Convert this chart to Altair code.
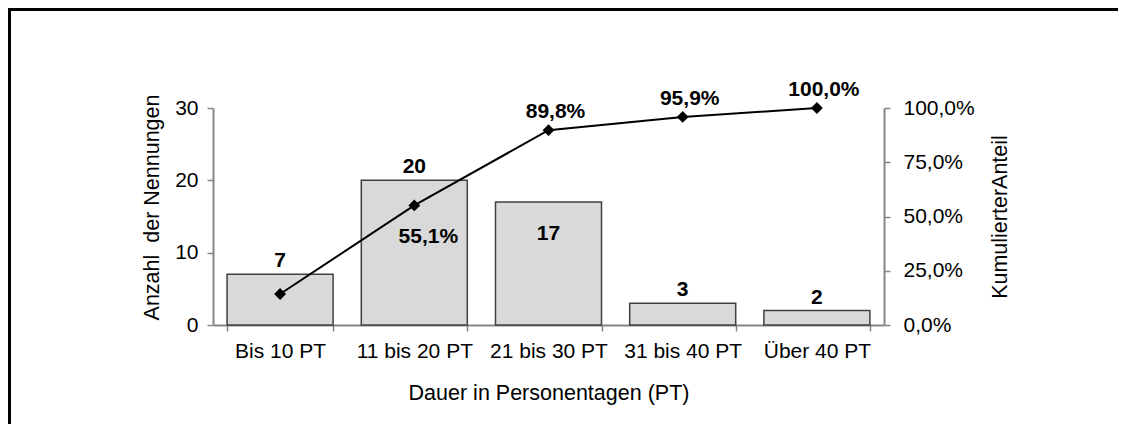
import altair as alt
import pandas as pd

categories = ["Bis 10 PT", "11 bis 20 PT", "21 bis 30 PT", "31 bis 40 PT", "Über 40 PT"]
counts = [7, 20, 17, 3, 2]
cumulative_pct = [14.3, 55.1, 89.8, 95.9, 100.0]
left_ticks = [0, 10, 20, 30]
right_ticks = [0, 25, 50, 75, 100]

df = pd.DataFrame({"cat": categories, "count": counts, "cum": cumulative_pct})

FONT = "Liberation Sans"

x_enc = alt.X(
    "cat:N",
    sort=categories,
    scale=alt.Scale(paddingInner=0.21, paddingOuter=0.105),
    axis=alt.Axis(
        title="Dauer in Personentagen (PT)",
        labelAngle=0,
        tickBand="extent",
        labelPadding=9,
        titlePadding=21,
    ),
)

y_left = alt.Y(
    "count:Q",
    scale=alt.Scale(domain=[0, 30]),
    axis=alt.Axis(
        orient="left",
        values=left_ticks,
        grid=False,
        title="Anzahl\u00a0 der Nennungen",
        labelPadding=9,
        titlePadding=11,
        titleY=99,
    ),
)

y_right = alt.Y(
    "cum:Q",
    scale=alt.Scale(domain=[0, 100]),
    axis=alt.Axis(
        orient="right",
        values=right_ticks,
        grid=False,
        title="KumulierterAnteil",
        labelExpr="replace(format(datum.value, '.1f'), '.', ',') + '%'",
        labelPadding=13,
        titlePadding=15,
        titleAngle=270,
        titleBaseline="top",
    ),
)

base = alt.Chart(df)

# chart-area border (only top and left edges are visible in the cropped reference)
frame_src = alt.Chart(alt.Data(values=[{}]))
frame_top = frame_src.mark_rect(color="black", strokeWidth=0).encode(
    x=alt.value(-205), x2=alt.value(905), y=alt.value(-100), y2=alt.value(-97)
)
frame_left = frame_src.mark_rect(color="black", strokeWidth=0).encode(
    x=alt.value(-205), x2=alt.value(-202), y=alt.value(-100), y2=alt.value(316)
)

bar_labels_above = base.transform_filter("datum.count != 17").transform_calculate(
    lab="format(datum.count, 'd')"
).mark_text(
    font=FONT, fontSize=21, fontWeight="bold", color="black", baseline="alphabetic", dy=-7
).encode(x=x_enc, y=y_left, text="lab:N")

bar_labels_inside = base.transform_filter("datum.count == 17").transform_calculate(
    lab="format(datum.count, 'd')"
).mark_text(
    font=FONT, fontSize=21, fontWeight="bold", color="black", baseline="alphabetic", dy=38
).encode(x=x_enc, y=y_left, text="lab:N")

bars = base.mark_bar(fill="#d9d9d9", stroke="#404040", strokeWidth=1.5).encode(
    x=x_enc, y=y_left
)

line = base.mark_line(color="black", strokeWidth=2).encode(x=x_enc, y=y_right)
points = base.mark_point(
    shape="diamond", filled=True, color="black", size=140, opacity=1
).encode(x=x_enc, y=y_right)

lab_expr = "replace(format(datum.cum, '.1f'), '.', ',') + '%'"

line_labels_above = base.transform_filter(
    "datum.cum > 60"
).transform_calculate(lab=lab_expr).mark_text(
    font=FONT, fontSize=21, fontWeight="bold", color="black", baseline="alphabetic", dy=-12, dx=7
).encode(x=x_enc, y=y_right, text="lab:N")

line_labels_below = base.transform_filter(
    "datum.cum > 50 && datum.cum < 60"
).transform_calculate(lab=lab_expr).mark_text(
    font=FONT, fontSize=21, fontWeight="bold", color="black", baseline="alphabetic", dy=38, dx=14
).encode(x=x_enc, y=y_right, text="lab:N")

left_group = alt.layer(frame_top, frame_left, bars, bar_labels_above, bar_labels_inside)
right_group = alt.layer(line, points, line_labels_above, line_labels_below)

chart = alt.layer(left_group, right_group).resolve_scale(y="independent").properties(
    width=671,
    height=217,
    autosize=alt.AutoSizeParams(type="none"),
    padding={"left": 205, "top": 100, "right": 234, "bottom": 99},
).configure_view(stroke=None).configure_axis(
    labelFont=FONT,
    titleFont=FONT,
    labelFontSize=21,
    titleFontSize=21.5,
    titleFontWeight="normal",
    labelColor="black",
    titleColor="black",
    domainColor="#868686",
    tickColor="#868686",
    domainWidth=2,
    tickWidth=1.5,
    tickSize=6,
)

chart.save("out.html", embed_options={"renderer": "svg", "actions": False})
